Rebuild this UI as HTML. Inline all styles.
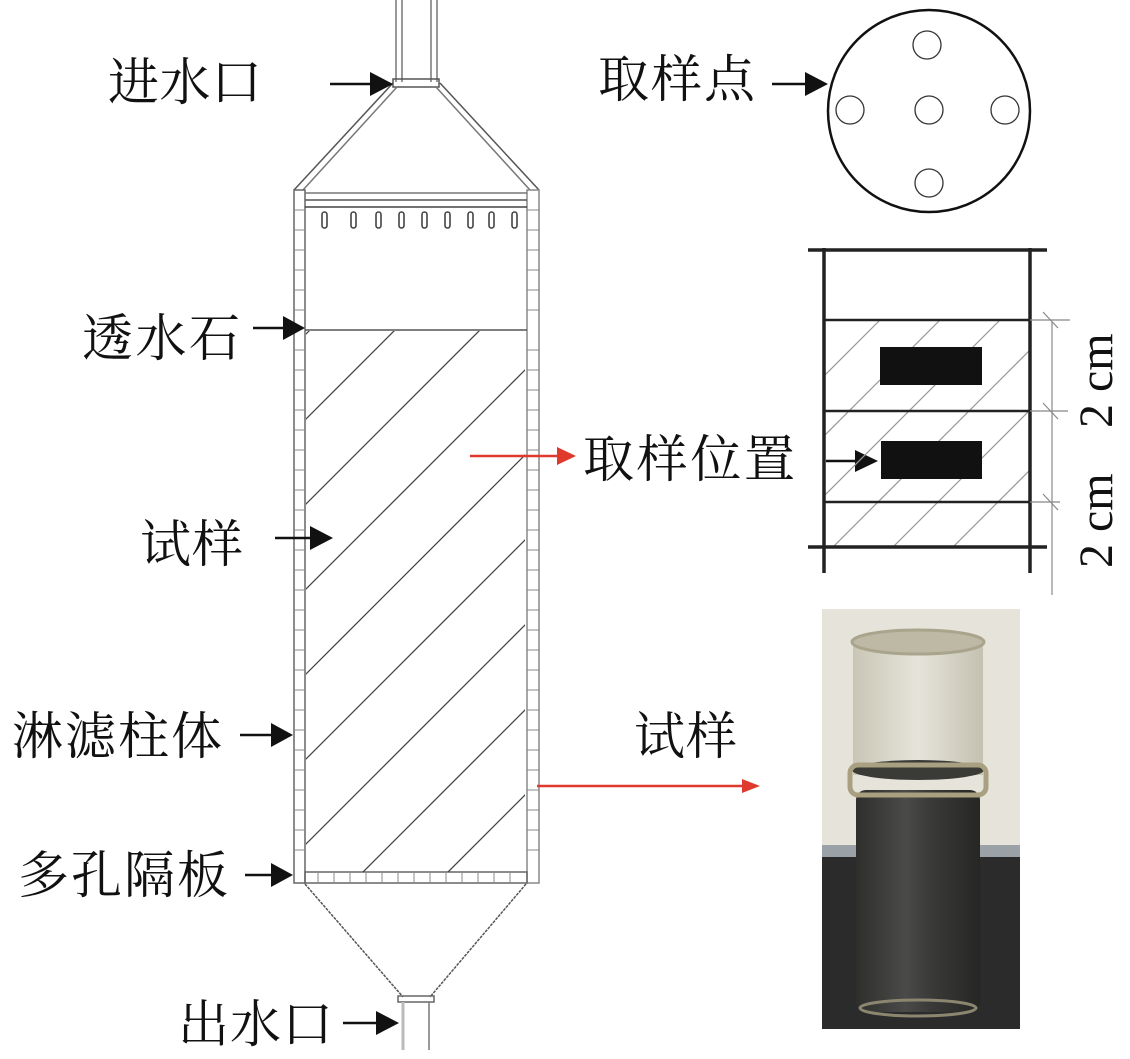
<!DOCTYPE html>
<html><head><meta charset="utf-8"><style>
html,body{margin:0;padding:0;background:#fff;overflow:hidden;width:1130px;height:1059px;}
svg{display:block;}
text{font-family:"Liberation Serif","Noto Serif CJK SC","Noto Sans CJK SC",serif;fill:#111;}
</style></head><body>
<svg width="1130" height="1059" viewBox="0 0 1130 1059" xmlns="http://www.w3.org/2000/svg">
<defs>
<clipPath id="cl"><rect x="306" y="331" width="219" height="541"/></clipPath>
<clipPath id="gl"><rect x="825" y="321" width="205" height="181"/><rect x="825" y="502" width="205" height="45"/></clipPath>
<linearGradient id="cyl" x1="0" x2="1"><stop offset="0" stop-color="#c9c6b6"/><stop offset="0.5" stop-color="#e6e4da"/><stop offset="1" stop-color="#c4c1b0"/></linearGradient>
<linearGradient id="dk" x1="0" x2="1"><stop offset="0" stop-color="#2e2e2c"/><stop offset="0.4" stop-color="#4a4a48"/><stop offset="0.6" stop-color="#3a3a38"/><stop offset="1" stop-color="#262624"/></linearGradient>
</defs>

<g stroke="#777" fill="none" stroke-width="1.5">
<line x1="396" y1="0" x2="396" y2="82"/><line x1="402" y1="0" x2="402" y2="82"/>
<line x1="431" y1="0" x2="431" y2="82"/><line x1="437" y1="0" x2="437" y2="82"/>
<rect x="393" y="79" width="46" height="8" stroke="#555"/>
<line x1="393" y1="83" x2="294" y2="190" stroke="#555"/><line x1="397" y1="87" x2="303" y2="190"/>
<line x1="440" y1="83" x2="539" y2="190" stroke="#555"/><line x1="436" y1="87" x2="530" y2="190"/>
<rect x="294" y="190" width="11" height="693" stroke="#666"/>
<rect x="527" y="190" width="12" height="693" stroke="#888"/>
<line x1="305" y1="193" x2="527" y2="193"/><line x1="305" y1="200" x2="527" y2="200" stroke="#555"/><line x1="305" y1="207" x2="527" y2="207" stroke="#444"/>
<rect x="305" y="872" width="222" height="11" stroke="#666"/>
<line x1="305" y1="884" x2="403" y2="997" stroke="#555" stroke-dasharray="3,1"/>
<line x1="526" y1="884" x2="430" y2="997" stroke="#555" stroke-dasharray="3,1"/>
<rect x="398" y="996" width="36" height="6" stroke="#666"/>
<line x1="403" y1="1002" x2="403" y2="1050" stroke="#bbb" stroke-width="3"/>
<line x1="429" y1="1002" x2="429" y2="1050" stroke="#777"/>
</g>
<g stroke="#888" stroke-width="1">
<path d="M294 210h11M294 230h11M294 250h11M294 270h11M294 290h11M294 310h11M294 350h11M294 370h11M294 390h11M294 410h11M294 430h11M294 450h11M294 470h11M294 490h11M294 510h11M294 530h11M294 550h11M294 570h11M294 590h11M294 610h11M294 630h11M294 650h11M294 670h11M294 690h11M294 710h11M294 730h11M294 750h11M294 770h11M294 790h11M294 810h11M294 830h11M294 850h11"/>
<path d="M527 210h12M527 230h12M527 250h12M527 270h12M527 290h12M527 310h12M527 350h12M527 370h12M527 390h12M527 410h12M527 430h12M527 450h12M527 470h12M527 490h12M527 510h12M527 530h12M527 550h12M527 570h12M527 590h12M527 610h12M527 630h12M527 650h12M527 670h12M527 690h12M527 710h12M527 730h12M527 750h12M527 770h12M527 790h12M527 810h12M527 830h12M527 850h12"/>
<path d="M318 872v11M334 872v11M350 872v11M366 872v11M382 872v11M398 872v11M414 872v11M430 872v11M446 872v11M462 872v11M478 872v11M494 872v11M510 872v11"/>
</g>
<g fill="none" stroke="#444" stroke-width="1.6">
<rect x="322" y="212" width="5" height="16" rx="2.5"/><rect x="351" y="212" width="5" height="16" rx="2.5"/><rect x="376" y="212" width="5" height="16" rx="2.5"/><rect x="399" y="212" width="5" height="16" rx="2.5"/><rect x="422" y="212" width="5" height="16" rx="2.5"/><rect x="445" y="212" width="5" height="16" rx="2.5"/><rect x="468" y="212" width="5" height="16" rx="2.5"/><rect x="489" y="212" width="5" height="16" rx="2.5"/><rect x="512" y="212" width="5" height="16" rx="2.5"/>
</g>
<line x1="305" y1="330" x2="527" y2="330" stroke="#555" stroke-width="1.5"/>
<g clip-path="url(#cl)" stroke="#444" stroke-width="1.3">
<path d="M200 440L700 -60M200 525L700 25M200 610L700 110M200 695L700 195M200 780L700 280M200 865L700 365M200 950L700 450M200 1035L700 535M200 1120L700 620M200 1205L700 705M200 1290L700 790M200 1375L700 875M200 1460L700 960"/>
</g>

<g stroke="#111" stroke-width="2.5">
<line x1="330" y1="84" x2="380" y2="84"/>
<line x1="253" y1="328" x2="290" y2="328"/>
<line x1="275" y1="538" x2="315" y2="538"/>
<line x1="240" y1="735" x2="278" y2="735"/>
<line x1="245" y1="875" x2="278" y2="875"/>
<line x1="343" y1="1023" x2="380" y2="1023"/>
<line x1="772" y1="84" x2="812" y2="84"/>
<line x1="826" y1="461" x2="862" y2="461"/>
</g>
<g fill="#111">
<path d="M370 72L393 84L370 96z"/>
<path d="M283 316L305 328L283 340z"/>
<path d="M310 526L333 538L310 550z"/>
<path d="M271 723L293 735L271 747z"/>
<path d="M271 863L293 875L271 887z"/>
<path d="M376 1011L399 1023L376 1035z"/>
<path d="M805 72L828 84L805 96z"/>
<path d="M855 450L878 461L855 472z"/>
</g>
<g stroke="#e03a2e" stroke-width="2.5">
<line x1="470" y1="456" x2="560" y2="456"/><path d="M557 447L576 456L557 465z" fill="#e03a2e" stroke="none"/>
<line x1="537" y1="786" x2="745" y2="786"/><path d="M742 779L760 786L742 793z" fill="#e03a2e" stroke="none"/>
</g>

<g fill="none" stroke="#111" stroke-width="2.5"><circle cx="929" cy="111" r="101"/></g>
<g fill="none" stroke="#333" stroke-width="1.3">
<circle cx="927" cy="45" r="14"/><circle cx="850" cy="110" r="14"/><circle cx="929" cy="110" r="14"/><circle cx="1005" cy="110" r="14"/><circle cx="929" cy="183" r="14"/>
</g>

<g clip-path="url(#gl)" stroke="#999" stroke-width="1.2">
<path d="M700 620L1000 320M760 620L1060 320M820 620L1120 320M880 620L1180 320M640 620L940 320M580 620L880 320"/>
</g>
<g stroke="#222" stroke-width="3.5">
<line x1="824" y1="248" x2="824" y2="573"/><line x1="1030" y1="248" x2="1030" y2="573"/>
<line x1="808" y1="250" x2="1047" y2="250"/><line x1="808" y1="547" x2="1047" y2="547"/>
</g>
<g stroke="#222" stroke-width="2.5">
<line x1="824" y1="320" x2="1030" y2="320"/><line x1="824" y1="411" x2="1030" y2="411"/><line x1="824" y1="502" x2="1030" y2="502"/>
</g>
<g stroke="#888" stroke-width="1.2">
<line x1="1030" y1="320" x2="1070" y2="320"/><line x1="1030" y1="411" x2="1068" y2="411"/><line x1="1030" y1="502" x2="1060" y2="502"/>
<line x1="1052" y1="322" x2="1052" y2="595"/>
<line x1="1043" y1="312" x2="1058" y2="328"/><line x1="1043" y1="403" x2="1058" y2="419"/><line x1="1043" y1="494" x2="1058" y2="510"/>
</g>
<rect x="880" y="347" width="102" height="38" fill="#111"/>
<rect x="881" y="441" width="101" height="38" fill="#111"/>
<text font-size="48" transform="translate(1112,568) rotate(-90)">2 cm</text>
<text font-size="48" transform="translate(1112,428) rotate(-90)">2 cm</text>

<rect x="822" y="609" width="198" height="420" fill="#e6e4da"/>
<rect x="822" y="845" width="198" height="12" fill="#9aa2a8"/>
<rect x="822" y="857" width="198" height="172" fill="#2b2b2b"/>
<rect x="853" y="640" width="130" height="135" fill="url(#cyl)"/>
<ellipse cx="918" cy="642" rx="66" ry="12" fill="#bdb9a4" stroke="#a9a48c" stroke-width="3"/>
<rect x="856" y="790" width="124" height="222" rx="10" fill="url(#dk)"/>
<ellipse cx="918" cy="770" rx="66" ry="10" fill="#3a3a36"/>
<rect x="850" y="765" width="136" height="30" rx="8" fill="none" stroke="#a8a080" stroke-width="5"/>
<ellipse cx="918" cy="1008" rx="58" ry="8" fill="none" stroke="#8a8670" stroke-width="3"/>

<g font-size="51">
<text x="108" y="100" textLength="154">进水口</text>
<text x="598" y="97" textLength="157">取样点</text>
<text x="82" y="356" textLength="158">透水石</text>
<text x="583" y="477" textLength="212">取样位置</text>
<text x="140" y="562" textLength="103">试样</text>
<text x="12" y="754" textLength="210">淋滤柱体</text>
<text x="634" y="754" textLength="103">试样</text>
<text x="18" y="893" textLength="210">多孔隔板</text>
<text x="178" y="1042" textLength="155">出水口</text>
</g>
</svg>
</body></html>
